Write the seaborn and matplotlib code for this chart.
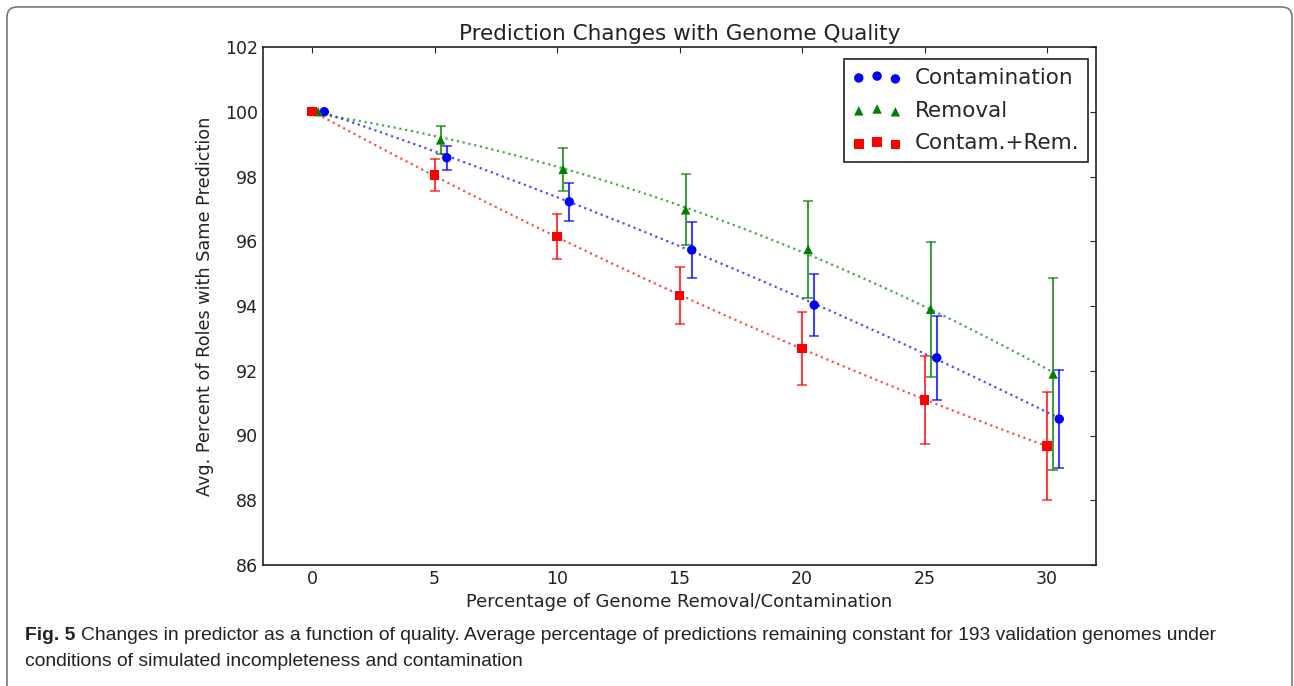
import numpy as np
import matplotlib
matplotlib.use("Agg")
import matplotlib.pyplot as plt
import seaborn as sns
from matplotlib.patches import FancyBboxPatch

# Values
pct = [0, 5, 10, 15, 20, 25, 30]

contam_x = [0.5, 5.5, 10.5, 15.5, 20.5, 25.5, 30.5]
contam_mean = [100.0, 98.58, 97.22, 95.73, 94.03, 92.40, 90.51]
contam_err = [0.0, 0.37, 0.58, 0.88, 0.96, 1.29, 1.50]

removal_x = [0.25, 5.25, 10.25, 15.25, 20.25, 25.25, 30.25]
removal_mean = [100.0, 99.13, 98.22, 96.97, 95.75, 93.90, 91.90]
removal_err = [0.0, 0.43, 0.66, 1.10, 1.49, 2.08, 2.97]

both_x = [0, 5, 10, 15, 20, 25, 30]
both_mean = [100.0, 98.05, 96.14, 94.32, 92.69, 91.10, 89.68]
both_err = [0.0, 0.50, 0.70, 0.89, 1.13, 1.36, 1.66]

series = [
    ("Contamination", contam_x, contam_mean, contam_err, "b", "o"),
    ("Removal", removal_x, removal_mean, removal_err, (0, 0.5, 0), "^"),
    ("Contam.+Rem.", both_x, both_mean, both_err, "r", "s"),
]

caption_1 = ("Changes in predictor as a function of quality. Average percentage of predictions "
             "remaining constant for 193 validation genomes under")
caption_2 = "conditions of simulated incompleteness and contamination"

sns.set_style("white")
plt.rcParams["font.family"] = ["DejaVu Sans"]
plt.rcParams["xtick.direction"] = "in"
plt.rcParams["ytick.direction"] = "in"
plt.rcParams["xtick.top"] = True
plt.rcParams["ytick.right"] = True
plt.rcParams["xtick.major.size"] = 4
plt.rcParams["ytick.major.size"] = 4

W, H = 1294, 686
fig = plt.figure(figsize=(W / 100, H / 100), dpi=100)
ax = fig.add_axes([263 / W, 1 - 565 / H, (1096 - 263) / W, (565 - 47) / H])

for label, xs, ys, errs, color, marker in series:
    # quadratic trend line, dotted
    sns.regplot(x=xs, y=ys, order=2, ci=None, scatter=False, ax=ax, color=color,
                line_kws=dict(ls=":", lw=1.6, alpha=0.7))
    ax.errorbar(xs, ys, yerr=errs, fmt="none", ecolor=color, elinewidth=1.5,
                capsize=3.5, capthick=1.2, alpha=0.75)
    sns.scatterplot(x=xs, y=ys, ax=ax, color=color, marker=marker, s=46,
                    edgecolor="none", label=label, zorder=5)

ax.set_xlim(-2, 32)
ax.set_ylim(86, 102)
ax.set_xticks(range(0, 31, 5))
ax.set_yticks(range(86, 103, 2))
ax.tick_params(labelsize=12.5, colors="#222222", width=0.8)
for sp in ax.spines.values():
    sp.set_color("#222222")
    sp.set_linewidth(1.2)

ax.set_title("Prediction Changes with Genome Quality", fontsize=15.5, color="#222222", pad=5)
ax.set_xlabel("Percentage of Genome Removal/Contamination", fontsize=12.9, color="#222222", labelpad=4)
ax.set_ylabel("Avg. Percent of Roles with Same Prediction", fontsize=12.7, color="#222222", labelpad=8)

leg = ax.legend(loc="upper right", bbox_to_anchor=(1 - 8 / 833, 1 - 12 / 518),
                borderaxespad=0, scatterpoints=3, scatteryoffsets=[0.375, 0.5, 0.3125],
                fontsize=15.5, frameon=True, fancybox=False, framealpha=1,
                edgecolor="#222222", handletextpad=0.6, labelspacing=0.6,
                handlelength=2.3)
leg.get_frame().set_linewidth(1.2)

# caption below the chart
cap_font = ["Liberation Sans", "DejaVu Sans"]
fs = 14
fig_lbl = fig.text(25 / W, 1 - 636 / H, "Fig. 5", fontsize=fs, fontweight="bold",
                   family=cap_font, va="center", color="#222222")
cap1 = ax.annotate(caption_1, xy=(1, 0.5), xycoords=fig_lbl, xytext=(4, 0),
                   textcoords="offset points", va="center", fontsize=fs, family=cap_font,
                   color="#222222", annotation_clip=False)
cap2 = fig.text(25 / W, 1 - 662 / H, caption_2, fontsize=fs, family=cap_font,
                va="center", color="#222222")

# shrink caption so the first line ends where the reference's does
fig.canvas.draw()
r = fig.canvas.get_renderer()
right = cap1.get_window_extent(r).x1
scale = (1222 - 25) / (right - 25)
if scale < 1:
    for t in (fig_lbl, cap1, cap2):
        t.set_fontsize(fs * scale)

# rounded border around the figure
border = FancyBboxPatch((0.07, -0.3), 12.85, 7.09, boxstyle="round,pad=0,rounding_size=0.1",
                        transform=fig.dpi_scale_trans, fill=False, ec="#777777", lw=1.2)
fig.patches.append(border)

fig.savefig("out.png", dpi=100)
